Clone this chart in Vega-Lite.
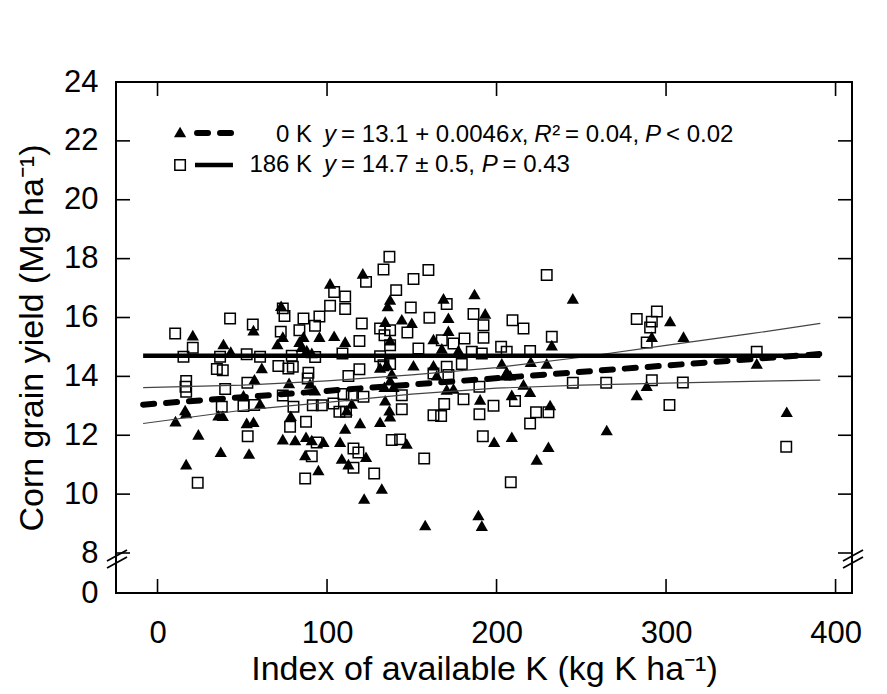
{
"$schema": "https://vega.github.io/schema/vega-lite/v6.json",
"width": 736, "height": 511,
"autosize": {"type": "none"},
"padding": {"left": 116, "top": 82, "right": 35, "bottom": 101},
"background": "white",
"config": {"view": {"stroke": "black", "strokeWidth": 2}, "font": "Liberation Sans"},
"datasets": {
"tri": [
{"k":20.8,"yield":15.40},{"k":38.9,"yield":15.10},{"k":43.2,"yield":14.84},{"k":16.3,"yield":12.86},{"k":16.9,"yield":12.76},{"k":10.6,"yield":12.48},{"k":35.9,"yield":12.68},{"k":38.5,"yield":12.66},{"k":24.1,"yield":12.03},{"k":52.6,"yield":12.42},{"k":56.6,"yield":12.46},{"k":37.3,"yield":11.44},{"k":54.0,"yield":11.38},{"k":16.9,"yield":11.02},{"k":56.6,"yield":15.57},{"k":61.5,"yield":14.29},{"k":57.2,"yield":13.90},{"k":50.7,"yield":13.36},{"k":60.5,"yield":13.08},{"k":72.9,"yield":16.40},{"k":73.9,"yield":15.35},{"k":70.7,"yield":15.10},{"k":77.6,"yield":13.78},{"k":78.6,"yield":12.66},{"k":73.9,"yield":11.87},
{"k":121.1,"yield":17.50},{"k":101.8,"yield":17.16},{"k":137.2,"yield":16.61},{"k":135.8,"yield":16.39},{"k":168.7,"yield":16.65},{"k":187.0,"yield":16.80},{"k":193.3,"yield":16.14},{"k":171.6,"yield":15.99},{"k":144.1,"yield":15.94},{"k":150.0,"yield":15.82},{"k":134.3,"yield":15.86},{"k":86.1,"yield":15.35},{"k":83.7,"yield":15.18},{"k":85.1,"yield":15.01},{"k":95.5,"yield":15.35},{"k":104.2,"yield":15.38},{"k":110.7,"yield":15.18},{"k":88.0,"yield":14.89},{"k":91.0,"yield":14.80},{"k":137.2,"yield":15.23},{"k":162.8,"yield":15.27},{"k":171.6,"yield":15.55},{"k":167.7,"yield":14.95},{"k":177.5,"yield":14.89},{"k":131.3,"yield":14.30},{"k":135.2,"yield":14.41},{"k":151.0,"yield":14.38},{"k":138.2,"yield":14.10},{"k":137.2,"yield":13.87},{"k":133.9,"yield":13.65},{"k":139.2,"yield":13.65},{"k":90.0,"yield":13.76},{"k":92.9,"yield":13.53},{"k":162.8,"yield":14.38},{"k":164.7,"yield":14.04},{"k":170.6,"yield":13.56},{"k":174.6,"yield":13.59},{"k":190.3,"yield":13.22},{"k":134.3,"yield":13.19},{"k":114.6,"yield":13.08},{"k":111.6,"yield":12.85},{"k":136.8,"yield":12.85},{"k":137.2,"yield":12.65},{"k":131.3,"yield":12.46},{"k":119.5,"yield":12.42},{"k":110.7,"yield":12.23},{"k":81.2,"yield":11.84},{"k":87.6,"yield":11.95},{"k":91.0,"yield":11.84},{"k":97.9,"yield":11.78},{"k":107.7,"yield":11.78},{"k":147.0,"yield":11.72},{"k":87.1,"yield":11.33},{"k":108.7,"yield":11.21},{"k":112.6,"yield":11.02},{"k":123.0,"yield":11.27},{"k":94.9,"yield":10.82},{"k":132.3,"yield":10.19},{"k":121.9,"yield":9.85},{"k":157.9,"yield":8.95},{"k":189.3,"yield":9.29},{"k":191.3,"yield":8.93},
{"k":245.0,"yield":16.65},{"k":232.6,"yield":15.06},{"k":302.4,"yield":15.88},{"k":291.6,"yield":15.35},{"k":220.2,"yield":14.50},{"k":229.6,"yield":14.44},{"k":203.1,"yield":14.44},{"k":206.0,"yield":14.16},{"k":205.1,"yield":14.04},{"k":208.0,"yield":14.04},{"k":215.9,"yield":13.73},{"k":219.8,"yield":13.48},{"k":288.6,"yield":13.68},{"k":282.7,"yield":13.37},{"k":209.0,"yield":13.37},{"k":231.6,"yield":13.03},{"k":265.0,"yield":12.18},{"k":198.6,"yield":11.78},{"k":209.0,"yield":11.95},{"k":230.6,"yield":11.61},{"k":223.7,"yield":11.18},
{"k":310.3,"yield":15.35},{"k":353.5,"yield":14.44},{"k":371.2,"yield":12.80}
],
"sq": [
{"k":10.4,"yield":15.46},{"k":20.8,"yield":14.97},{"k":15.3,"yield":14.67},{"k":42.8,"yield":15.97},{"k":56.2,"yield":15.76},{"k":36.9,"yield":14.67},{"k":35.0,"yield":14.25},{"k":38.5,"yield":14.21},{"k":16.9,"yield":13.84},{"k":16.5,"yield":13.65},{"k":16.9,"yield":13.48},{"k":39.9,"yield":13.57},{"k":53.0,"yield":13.78},{"k":52.6,"yield":14.75},{"k":60.5,"yield":14.67},{"k":37.9,"yield":12.97},{"k":50.7,"yield":12.99},{"k":57.0,"yield":13.03},{"k":53.2,"yield":11.97},{"k":23.7,"yield":10.39},{"k":73.9,"yield":16.31},{"k":74.9,"yield":16.05},{"k":72.7,"yield":15.52},{"k":71.3,"yield":14.35},{"k":77.2,"yield":14.27},{"k":73.9,"yield":13.35},{"k":78.2,"yield":12.29},
{"k":136.8,"yield":18.06},{"k":133.3,"yield":17.63},{"k":159.8,"yield":17.61},{"k":123.0,"yield":17.21},{"k":151.0,"yield":17.31},{"k":104.2,"yield":16.87},{"k":110.7,"yield":16.71},{"k":101.8,"yield":16.40},{"k":110.7,"yield":16.29},{"k":140.8,"yield":16.93},{"k":149.4,"yield":16.34},{"k":170.6,"yield":16.46},{"k":186.4,"yield":16.12},{"k":86.1,"yield":15.97},{"k":95.5,"yield":16.03},{"k":92.9,"yield":15.72},{"k":83.7,"yield":15.57},{"k":120.5,"yield":15.80},{"k":131.3,"yield":15.63},{"k":137.2,"yield":15.57},{"k":133.9,"yield":15.40},{"k":147.4,"yield":15.49},{"k":160.4,"yield":15.99},{"k":137.2,"yield":15.06},{"k":119.1,"yield":15.20},{"k":153.9,"yield":14.95},{"k":109.1,"yield":14.78},{"k":167.7,"yield":15.23},{"k":174.6,"yield":15.12},{"k":181.1,"yield":15.29},{"k":192.3,"yield":15.74},{"k":192.3,"yield":15.31},{"k":185.4,"yield":14.84},{"k":79.8,"yield":14.33},{"k":89.0,"yield":14.12},{"k":88.6,"yield":13.93},{"k":119.1,"yield":14.24},{"k":112.6,"yield":14.01},{"k":133.3,"yield":14.38},{"k":137.2,"yield":14.42},{"k":170.6,"yield":14.33},{"k":162.8,"yield":14.10},{"k":171.6,"yield":14.05},{"k":179.5,"yield":14.42},{"k":180.5,"yield":13.22},{"k":189.9,"yield":13.65},{"k":109.7,"yield":13.40},{"k":114.6,"yield":13.36},{"k":121.5,"yield":13.31},{"k":144.1,"yield":13.36},{"k":80.2,"yield":12.97},{"k":91.6,"yield":13.02},{"k":96.9,"yield":13.02},{"k":103.8,"yield":13.08},{"k":107.3,"yield":12.80},{"k":111.2,"yield":12.80},{"k":144.1,"yield":12.88},{"k":169.1,"yield":13.06},{"k":162.8,"yield":12.68},{"k":167.3,"yield":12.65},{"k":189.9,"yield":12.71},{"k":87.6,"yield":12.46},{"k":191.9,"yield":11.97},{"k":138.2,"yield":11.84},{"k":143.1,"yield":11.86},{"k":93.9,"yield":11.75},{"k":115.6,"yield":11.55},{"k":118.5,"yield":11.41},{"k":91.0,"yield":11.29},{"k":115.6,"yield":10.90},{"k":127.8,"yield":10.70},{"k":157.3,"yield":11.21},{"k":87.1,"yield":10.53},{"k":93.0,"yield":14.66},{"k":131.3,"yield":14.68},{"k":79.2,"yield":14.70},
{"k":229.6,"yield":17.44},{"k":209.4,"yield":15.91},{"k":215.9,"yield":15.63},{"k":232.6,"yield":15.35},{"k":202.7,"yield":15.01},{"k":206.0,"yield":14.84},{"k":219.8,"yield":14.86},{"k":191.3,"yield":14.78},{"k":245.0,"yield":13.78},{"k":264.7,"yield":13.78},{"k":282.7,"yield":15.95},{"k":294.6,"yield":16.20},{"k":291.6,"yield":15.86},{"k":290.6,"yield":15.66},{"k":288.6,"yield":15.15},{"k":291.6,"yield":13.87},{"k":302.0,"yield":13.03},{"k":198.2,"yield":13.00},{"k":210.9,"yield":13.16},{"k":223.3,"yield":12.78},{"k":230.6,"yield":12.78},{"k":219.8,"yield":12.40},{"k":208.4,"yield":10.40},
{"k":353.5,"yield":14.84},{"k":309.9,"yield":13.79},{"k":370.9,"yield":11.61}
],
"band": [
{"g":"up","k":-8.5,"yield":13.62},{"g":"up","k":50,"yield":13.70},{"g":"up","k":100,"yield":13.85},{"g":"up","k":150,"yield":14.05},{"g":"up","k":200,"yield":14.30},{"g":"up","k":250,"yield":14.65},{"g":"up","k":300,"yield":15.05},{"g":"up","k":350,"yield":15.45},{"g":"up","k":391,"yield":15.80},
{"g":"lo","k":-8.5,"yield":12.40},{"g":"lo","k":50,"yield":12.85},{"g":"lo","k":100,"yield":13.12},{"g":"lo","k":150,"yield":13.40},{"g":"lo","k":200,"yield":13.60},{"g":"lo","k":250,"yield":13.70},{"g":"lo","k":300,"yield":13.77},{"g":"lo","k":350,"yield":13.83},{"g":"lo","k":391,"yield":13.87}
],
"fit0": [{"k":-8.5,"yield":13.04},{"k":391,"yield":14.76}],
"fit186": [{"k":-8.5,"yield":14.7},{"k":391,"yield":14.7}],
"legtri": [{"k":13.3,"yield":22.30}],
"legsq": [{"k":13.3,"yield":21.18}],
"legdash": [{"k":23.3,"yield":22.27},{"k":45.7,"yield":22.27}],
"legsolid": [{"k":22.1,"yield":21.18},{"k":44.5,"yield":21.18}],
"xt": [{"v":0},{"v":100},{"v":200},{"v":300},{"v":400}],
"yt": [{"v":8},{"v":10},{"v":12},{"v":14},{"v":16},{"v":18},{"v":20},{"v":22},{"v":24}],
"txt": [
{"t":"0 K","k":91.2,"yield":21.96,"s":"rr"},
{"t":"y","k":98.2,"yield":21.96,"s":"i"},
{"t":"= 13.1 + 0.0046","k":108.3,"yield":21.96,"s":"r"},
{"t":"x","k":208.4,"yield":21.96,"s":"i"},
{"t":",","k":214.8,"yield":21.96,"s":"r"},
{"t":"R","k":222.2,"yield":21.96,"s":"i"},
{"t":"²","k":232.8,"yield":21.96,"s":"r"},
{"t":"= 0.04,","k":240.4,"yield":21.96,"s":"r"},
{"t":"P","k":287.6,"yield":21.96,"s":"i"},
{"t":"< 0.02","k":300.0,"yield":21.96,"s":"r"},
{"t":"186 K","k":91.2,"yield":20.94,"s":"rr"},
{"t":"y","k":98.2,"yield":20.94,"s":"i"},
{"t":"= 14.7 ± 0.5,","k":108.3,"yield":20.94,"s":"r"},
{"t":"P","k":191.2,"yield":20.94,"s":"i"},
{"t":"= 0.43","k":203.5,"yield":20.94,"s":"r"}
],
"brk": [
{"g":"LA","k":-29.8,"yield":6.4},{"g":"LA","k":-18.0,"yield":8.1},
{"g":"LB","k":-29.8,"yield":5.0},{"g":"LB","k":-18.0,"yield":7.2},
{"g":"RA","k":404.4,"yield":6.4},{"g":"RA","k":416.2,"yield":8.1},
{"g":"RB","k":404.4,"yield":5.0},{"g":"RB","k":416.2,"yield":7.2}
]
},
"layer": [
{
"data": {"name": "sq"},
"mark": {"type": "point", "shape": "square", "filled": false, "color": "black", "strokeWidth": 1.5, "size": 110, "opacity": 1},
"encoding": {
"x": {"field": "k", "type": "quantitative", "scale": {"domain": [-24.5, 409.7], "nice": false, "zero": false},
 "axis": {"orient": "bottom", "values": [0,100,200,300,400], "ticks": false, "domain": false, "labelFontSize": 31, "labelColor": "black", "labelPadding": 25, "labelFont": "Liberation Sans", "labelFlush": false, "labelOverlap": false, "grid": false, "title": "Index of available K (kg K ha⁻¹)", "titleFontSize": 34, "titleFontWeight": "normal", "titleColor": "black", "titleFont": "Liberation Sans", "titlePadding": 4}},
"y": {"field": "yield", "type": "quantitative", "scale": {"domain": [0, 8, 24], "range": [511, 471, 0], "nice": false, "zero": false},
 "axis": {"orient": "left", "values": [0,8,10,12,14,16,18,20,22,24], "ticks": false, "domain": false, "labelFontSize": 31, "labelColor": "black", "labelPadding": 18, "labelFont": "Liberation Sans", "labelOverlap": false, "labelFlush": false, "grid": false, "title": "Corn grain yield (Mg ha⁻¹)", "titleFontSize": 34, "titleFontWeight": "normal", "titleColor": "black", "titleFont": "Liberation Sans", "titlePadding": 14}}
}
},
{
"data": {"name": "tri"},
"mark": {"type": "point", "shape": "triangle-up", "filled": true, "color": "black", "size": 150, "opacity": 1},
"encoding": {
"x": {"field": "k", "type": "quantitative"},
"y": {"field": "yield", "type": "quantitative"}
}
},
{
"data": {"name": "xt"},
"mark": {"type": "tick", "orient": "vertical", "size": 14, "thickness": 1.6, "color": "black", "opacity": 1, "yOffset": -7},
"encoding": {
"x": {"field": "v", "type": "quantitative"},
"y": {"datum": 0, "type": "quantitative"}
}
},
{
"data": {"name": "xt"},
"mark": {"type": "tick", "orient": "vertical", "size": 14, "thickness": 1.6, "color": "black", "opacity": 1, "yOffset": 7},
"encoding": {
"x": {"field": "v", "type": "quantitative"},
"y": {"datum": 24, "type": "quantitative"}
}
},
{
"data": {"name": "yt"},
"mark": {"type": "tick", "orient": "horizontal", "size": 14, "thickness": 1.6, "color": "black", "opacity": 1, "xOffset": 7},
"encoding": {
"y": {"field": "v", "type": "quantitative"},
"x": {"datum": -24.5, "type": "quantitative"}
}
},
{
"data": {"name": "yt"},
"mark": {"type": "tick", "orient": "horizontal", "size": 14, "thickness": 1.6, "color": "black", "opacity": 1, "xOffset": -7},
"encoding": {
"y": {"field": "v", "type": "quantitative"},
"x": {"datum": 409.7, "type": "quantitative"}
}
},
{
"data": {"name": "band"},
"mark": {"type": "line", "color": "#444444", "strokeWidth": 1.2},
"encoding": {
"x": {"field": "k", "type": "quantitative"},
"y": {"field": "yield", "type": "quantitative"},
"detail": {"field": "g"}
}
},
{
"data": {"name": "fit0"},
"mark": {"type": "line", "color": "black", "strokeWidth": 6, "strokeDash": [11, 12], "strokeCap": "round"},
"encoding": {
"x": {"field": "k", "type": "quantitative"},
"y": {"field": "yield", "type": "quantitative"}
}
},
{
"data": {"name": "fit186"},
"mark": {"type": "line", "color": "black", "strokeWidth": 4.5},
"encoding": {
"x": {"field": "k", "type": "quantitative"},
"y": {"field": "yield", "type": "quantitative"}
}
},
{
"data": {"name": "legdash"},
"mark": {"type": "line", "color": "black", "strokeWidth": 6, "strokeDash": [11, 12], "strokeCap": "round"},
"encoding": {
"x": {"field": "k", "type": "quantitative"},
"y": {"field": "yield", "type": "quantitative"}
}
},
{
"data": {"name": "legsolid"},
"mark": {"type": "line", "color": "black", "strokeWidth": 4.5},
"encoding": {
"x": {"field": "k", "type": "quantitative"},
"y": {"field": "yield", "type": "quantitative"}
}
},
{
"data": {"name": "legtri"},
"mark": {"type": "point", "shape": "triangle-up", "filled": true, "color": "black", "size": 150, "opacity": 1},
"encoding": {
"x": {"field": "k", "type": "quantitative"},
"y": {"field": "yield", "type": "quantitative"}
}
},
{
"data": {"name": "legsq"},
"mark": {"type": "point", "shape": "square", "filled": false, "color": "black", "strokeWidth": 1.5, "size": 110, "opacity": 1},
"encoding": {
"x": {"field": "k", "type": "quantitative"},
"y": {"field": "yield", "type": "quantitative"}
}
},
{
"data": {"name": "txt"},
"transform": [{"filter": "datum.s == 'rr'"}],
"mark": {"type": "text", "align": "right", "baseline": "alphabetic", "fontSize": 24, "font": "Liberation Sans", "color": "black"},
"encoding": {
"x": {"field": "k", "type": "quantitative"},
"y": {"field": "yield", "type": "quantitative"},
"text": {"field": "t"}
}
},
{
"data": {"name": "txt"},
"transform": [{"filter": "datum.s == 'r'"}],
"mark": {"type": "text", "align": "left", "baseline": "alphabetic", "fontSize": 24, "font": "Liberation Sans", "color": "black"},
"encoding": {
"x": {"field": "k", "type": "quantitative"},
"y": {"field": "yield", "type": "quantitative"},
"text": {"field": "t"}
}
},
{
"data": {"name": "txt"},
"transform": [{"filter": "datum.s == 'i'"}],
"mark": {"type": "text", "align": "left", "baseline": "alphabetic", "fontSize": 24, "font": "Liberation Sans", "fontStyle": "italic", "color": "black"},
"encoding": {
"x": {"field": "k", "type": "quantitative"},
"y": {"field": "yield", "type": "quantitative"},
"text": {"field": "t"}
}
},
{
"data": {"name": "brk"},
"mark": {"type": "line", "color": "black", "strokeWidth": 1.8, "clip": false},
"encoding": {
"x": {"field": "k", "type": "quantitative"},
"y": {"field": "yield", "type": "quantitative"},
"detail": {"field": "g"}
}
}
]
}
